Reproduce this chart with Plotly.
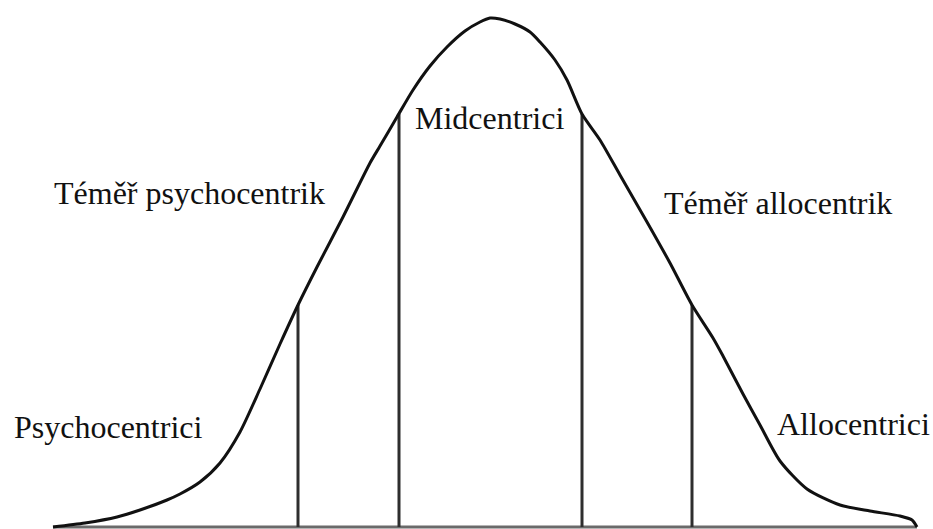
import numpy as np
import plotly.graph_objects as go

# Bell curve (x position, height above baseline)
curve_x = [53, 85, 117, 140, 167, 180, 200, 220, 240, 260, 280, 298, 317, 343, 370, 380,
           397, 413, 430, 447, 465, 480, 490, 500, 515, 530, 540, 555, 567, 582, 600, 620,
           647, 670, 692, 713, 723, 743, 760, 780, 807, 840, 870, 900, 912, 917]
curve_h = [0, 4, 10, 17, 27, 33, 45, 64, 95, 138, 183, 222, 260, 310, 364, 381,
           410, 437, 461, 480, 496, 505, 509, 508, 503, 495, 485, 467, 447, 413, 387, 352,
           305, 264, 222, 189, 171, 133, 102, 66, 38, 22, 16, 11, 7, 0]

# Segment dividers
divider_x = [298, 399, 582, 692]

# Segment labels
labels = ["Psychocentrici", "Téměř psychocentrik", "Midcentrici", "Téměř allocentrik", "Allocentrici"]
label_x = [12, 52, 413, 662, 775]
label_h = [100, 334, 409, 324, 103]

fig = go.Figure()

# baseline
fig.add_trace(go.Scatter(x=[curve_x[0], curve_x[-1]], y=[0, 0], mode="lines",
                         line=dict(color="#6a6a6a", width=3), hoverinfo="skip"))

# dividers
tops = np.interp(divider_x, curve_x, curve_h)
for dx, top in zip(divider_x, tops):
    fig.add_trace(go.Scatter(x=[dx, dx], y=[0, top], mode="lines",
                             line=dict(color="#2e2e2e", width=3), hoverinfo="skip"))

# curve
fig.add_trace(go.Scatter(x=curve_x, y=curve_h, mode="lines",
                         line=dict(color="#111111", width=3, shape="spline", smoothing=0.7),
                         hoverinfo="skip"))

for t, lx, lh in zip(labels, label_x, label_h):
    fig.add_annotation(x=lx, y=lh, text=t, showarrow=False, xanchor="left", yanchor="middle",
                       font=dict(family="Liberation Serif, Times New Roman, DejaVu Serif, serif",
                                 size=32, color="#111111"))

fig.update_layout(
    width=933, height=529, margin=dict(l=0, r=0, t=0, b=0),
    paper_bgcolor="white", plot_bgcolor="white", showlegend=False,
    xaxis=dict(range=[0, 933], visible=False, fixedrange=True),
    yaxis=dict(range=[-2, 527], visible=False, fixedrange=True),
)

fig.write_html("out.html", config={"displayModeBar": False},
               post_script="document.body.style.margin='0';document.body.style.overflow='hidden';")
